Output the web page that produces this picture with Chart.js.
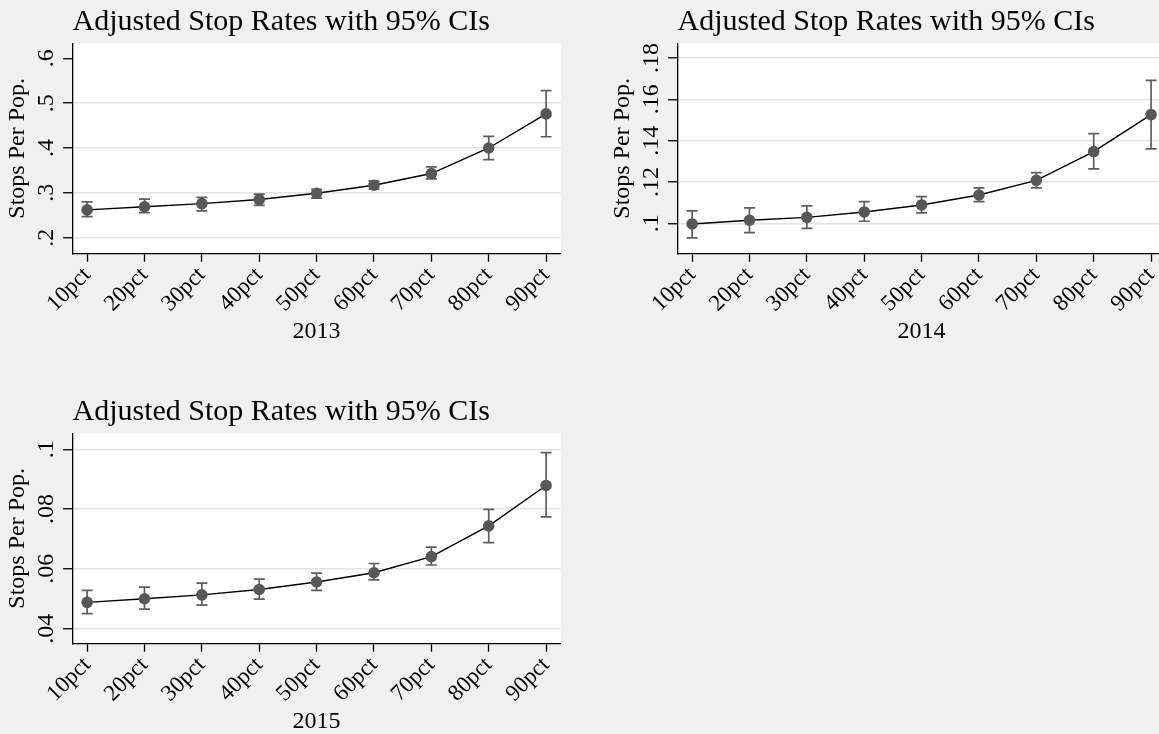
<!DOCTYPE html>
<html>
<head>
<meta charset="utf-8">
<script src="https://cdn.jsdelivr.net/npm/chart.js@4/dist/chart.umd.min.js"></script>
<style>
  html, body { margin: 0; padding: 0; background: #f0f0f0; overflow: hidden; }
  body { width: 1159px; height: 734px; position: relative; }
  .panel { position: absolute; width: 605px; height: 390px; }
</style>
</head>
<body>
<div class="panel" style="left:0;top:0"><canvas id="c2013" width="605" height="390"></canvas></div>
<div class="panel" style="left:605px;top:0"><canvas id="c2014" width="605" height="390"></canvas></div>
<div class="panel" style="left:0;top:390px"><canvas id="c2015" width="605" height="390"></canvas></div>
<script>
// percentile bins on the x axis
const pctLabels = ['10pct', '20pct', '30pct', '40pct', '50pct', '60pct', '70pct', '80pct', '90pct'];

// 2013: point estimate and 95% CI
const rate2013 = [0.262, 0.269, 0.276, 0.285, 0.299, 0.317, 0.343, 0.400, 0.476];
const lo2013   = [0.247, 0.256, 0.260, 0.272, 0.288, 0.308, 0.331, 0.374, 0.425];
const hi2013   = [0.280, 0.286, 0.290, 0.297, 0.308, 0.326, 0.358, 0.426, 0.528];
const yTicks2013 = [0.2, 0.3, 0.4, 0.5, 0.6];

// 2014
const rate2014 = [0.0997, 0.1015, 0.1029, 0.1055, 0.1089, 0.1137, 0.1208, 0.1347, 0.1526];
const lo2014   = [0.0930, 0.0955, 0.0976, 0.1010, 0.1051, 0.1105, 0.1172, 0.1263, 0.1360];
const hi2014   = [0.1060, 0.1075, 0.1084, 0.1105, 0.1129, 0.1172, 0.1245, 0.1434, 0.1692];
const yTicks2014 = [0.1, 0.12, 0.14, 0.16, 0.18];

// 2015
const rate2015 = [0.0488, 0.0500, 0.0513, 0.0531, 0.0556, 0.0587, 0.0641, 0.0744, 0.0879];
const lo2015   = [0.0450, 0.0465, 0.0479, 0.0499, 0.0528, 0.0563, 0.0613, 0.0688, 0.0774];
const hi2015   = [0.0528, 0.0539, 0.0552, 0.0566, 0.0586, 0.0618, 0.0673, 0.0799, 0.0989];
const yTicks2015 = [0.04, 0.06, 0.08, 0.1];

const FONT = '"Liberation Serif", "Times New Roman", serif';
const MARKER = '#575757';
const CI_COLOR = '#5e5e5e';

// white plot region like Stata's plotregion
const plotBg = {
  id: 'plotBg',
  beforeDraw(chart) {
    const { ctx, chartArea: a } = chart;
    ctx.save();
    ctx.fillStyle = '#ffffff';
    ctx.fillRect(a.left, a.top, a.right - a.left, a.bottom - a.top);
    ctx.restore();
  }
};

function makePanel(id, year, rates, lo, hi, yTicks, yMin, yMax, yPad, noGrid) {
  const datasets = [{
    data: rates.map((v, i) => ({ x: i + 1, y: v })),
    showLine: true,
    borderColor: '#000',
    borderWidth: 1.4,
    pointRadius: 5.8,
    pointBackgroundColor: MARKER,
    pointBorderColor: MARKER,
    pointBorderWidth: 0,
    order: 0
  }];
  // one small dataset per CI: vertical segment with flat caps
  lo.forEach((l, i) => {
    datasets.push({
      data: [{ x: i + 1, y: l }, { x: i + 1, y: hi[i] }],
      showLine: true,
      borderColor: CI_COLOR,
      borderWidth: 1.7,
      pointStyle: 'line',
      pointRadius: 5.5,
      pointBorderColor: CI_COLOR,
      pointBorderWidth: 1.7,
      order: 1
    });
  });

  return new Chart(id, {
    type: 'scatter',
    data: { datasets },
    plugins: [plotBg],
    options: {
      responsive: false,
      animation: false,
      events: [],
      layout: { padding: { left: 0, top: 0, right: 44.3, bottom: 0 } },
      plugins: {
        legend: { display: false },
        tooltip: { enabled: false },
        title: {
          display: true,
          text: 'Adjusted Stop Rates with 95% CIs',
          align: 'start',
          fullSize: false,
          color: '#000',
          font: { family: FONT, size: 30, weight: 'normal' },
          padding: { top: 4, bottom: 3.3 }
        }
      },
      scales: {
        x: {
          type: 'linear',
          min: 0.745,
          max: 9.255,
          bounds: 'data',
          afterBuildTicks: s => { s.ticks = pctLabels.map((_, i) => ({ value: i + 1 })); },
          afterFit: s => { s.height = 136.7; },
          ticks: {
            autoSkip: false,
            minRotation: 45,
            maxRotation: 45,
            padding: 0,
            color: '#000',
            font: { family: FONT, size: 23 },
            callback: v => pctLabels[v - 1]
          },
          grid: { drawOnChartArea: false, tickLength: 8.5, tickColor: '#000', tickWidth: 1.3 },
          border: { color: '#000', width: 1.3 },
          title: {
            display: true,
            text: year,
            color: '#000',
            font: { family: FONT, size: 24 },
            padding: { top: 0, bottom: 44.1 }
          }
        },
        y: {
          type: 'linear',
          min: yMin,
          max: yMax,
          bounds: 'data',
          afterBuildTicks: s => { s.ticks = yTicks.map(v => ({ value: v })); },
          afterFit: s => { s.width = 72.5; },
          ticks: {
            minRotation: 90,
            maxRotation: 90,
            crossAlign: 'center',
            padding: yPad,
            color: '#000',
            font: { family: FONT, size: 24 },
            callback: v => String(v).replace(/^0/, '')
          },
          grid: {
            color: c => (c.tick && c.tick.value === noGrid) ? 'rgba(0,0,0,0)' : '#e3e3e3',
            lineWidth: 1.5,
            tickLength: 9.4,
            tickColor: '#000',
            tickWidth: 1.3
          },
          border: { color: '#000', width: 1.3 },
          title: {
            display: true,
            text: 'Stops Per Pop.',
            color: '#000',
            font: { family: FONT, size: 24 },
            padding: { top: 3.6, bottom: 0 }
          }
        }
      }
    }
  });
}

makePanel('c2013', '2013', rate2013, lo2013, hi2013, yTicks2013, 0.1652, 0.6334, 7.6, 0.6);
makePanel('c2014', '2014', rate2014, lo2014, hi2014, yTicks2014, 0.0855, 0.1871, 1.6, null);
makePanel('c2015', '2015', rate2015, lo2015, hi2015, yTicks2015, 0.0351, 0.10535, 1.6, null);
</script>
</body>
</html>
